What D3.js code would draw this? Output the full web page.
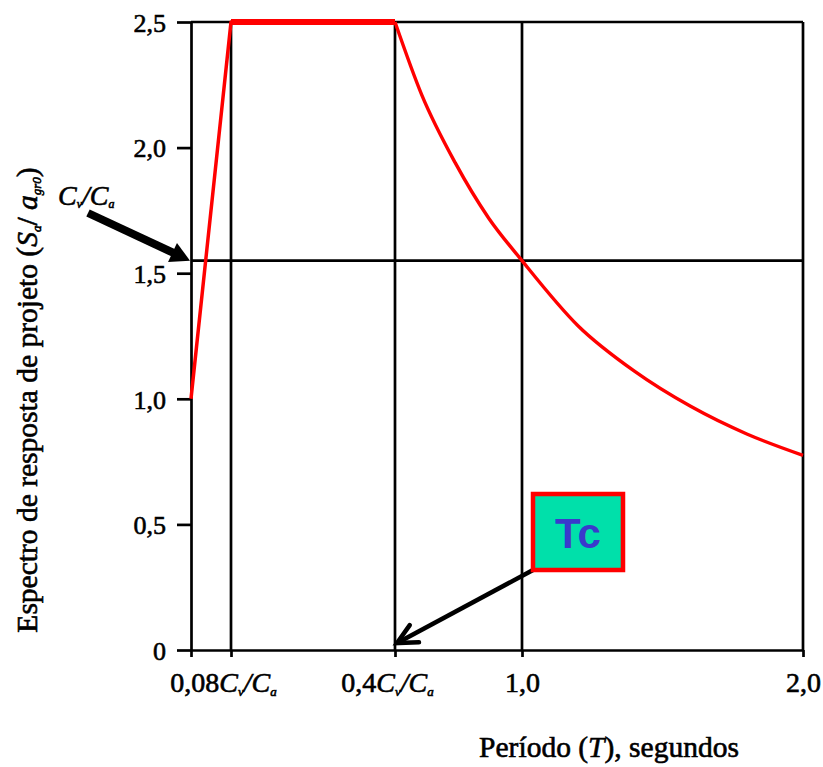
<!doctype html>
<html>
<head>
<meta charset="utf-8">
<title>Espectro de resposta de projeto</title>
<script src="https://cdnjs.cloudflare.com/ajax/libs/d3/7.8.5/d3.min.js"></script>
<style>
  body { margin: 0; background: #fff; }
  svg { display: block; font-family: "Liberation Serif", "Times New Roman", serif; }
  text { fill: #000; stroke: #000; stroke-width: 0.6px; }
  .axis path, .axis line { stroke: #000; stroke-width: 2.7px; }
</style>
</head>
<body>
<div id="chart"></div>
<script>
// ---- data ----
const cvOverCa = 1.55;                       // horizontal reference line Cv/Ca
const riseT  = [0, 0.124, 0.62];             // T = 0, 0.08Cv/Ca, 0.4Cv/Ca
const riseSa = [1.0, 2.5, 2.5];
const decayT  = [0.62, 0.7, 0.8, 0.9, 1.0, 1.2, 1.4, 1.6, 1.8, 2.0];
const decaySa = [2.5, 2.21, 1.94, 1.72, 1.55, 1.29, 1.11, 0.97, 0.86, 0.775];

const xTickValues = [0, 0.124, 0.62, 1.0, 2.0];
const xTickLabels = ["", "0,08", "0,4", "1,0", "2,0"];
const xTickSuffix = [false, true, true, false, false];   // append Cv/Ca
const gridT = [0.124, 0.62, 1.0, 2.0];
const yTickValues = [0, 0.5, 1.0, 1.5, 2.0, 2.5];
const yTickLabels = ["0", "0,5", "1,0", "1,5", "2,0", "2,5"];

// ---- svg ----
const W = 823, H = 767;
const svg = d3.select('#chart').append('svg')
  .attr('width', W)
  .attr('height', H);

// the period axis in the figure is not to scale: piecewise between the ticks
const x = d3.scaleLinear()
  .domain(xTickValues)
  .range([191, 231, 395, 522, 803]);

const y = d3.scaleLinear()
  .domain([0, 2.5])
  .range([650, 22]);

// grid / frame
svg.selectAll('line.vgrid')
  .data(gridT)
  .join('line')
  .attr('class', 'vgrid')
  .attr('x1', d => x(d)).attr('x2', d => x(d))
  .attr('y1', y(0)).attr('y2', y(2.5))
  .attr('stroke', '#000').attr('stroke-width', 2.7);

svg.append('line')
  .attr('x1', x(0)).attr('x2', x(2))
  .attr('y1', y(2.5)).attr('y2', y(2.5))
  .attr('stroke', '#000').attr('stroke-width', 2.7);

svg.append('line')
  .attr('x1', x(0)).attr('x2', x(2))
  .attr('y1', y(cvOverCa)).attr('y2', y(cvOverCa))
  .attr('stroke', '#000').attr('stroke-width', 2.7);

// axes
const yAxis = d3.axisLeft(y)
  .tickValues(yTickValues)
  .tickFormat((d, i) => yTickLabels[i])
  .tickSize(14)
  .tickSizeOuter(0)
  .tickPadding(11);

const gy = svg.append('g')
  .attr('class', 'axis')
  .attr('transform', `translate(${x(0)},0)`)
  .call(yAxis);
gy.attr('font-family', null);
gy.selectAll('text')
  .attr('font-size', 26)
  .attr('dy', '0.36em');

const xAxis = d3.axisBottom(x)
  .tickValues(xTickValues)
  .tickFormat((d, i) => xTickLabels[i])
  .tickSize(7)
  .tickSizeOuter(0)
  .tickPadding(15);

const gx = svg.append('g')
  .attr('class', 'axis')
  .attr('transform', `translate(0,${y(0)})`)
  .call(xAxis);
gx.attr('font-family', null);
gx.selectAll('text')
  .attr('font-size', 28)
  .each(function (d, i) {
    if (!xTickSuffix[i]) return;
    const t = d3.select(this);
    t.append('tspan').attr('font-style', 'italic').text('C');
    t.append('tspan').attr('font-size', 13).attr('font-style', 'italic').attr('dy', 4).text('v');
    t.append('tspan').attr('font-style', 'italic').attr('dy', -4).text('/C');
    t.append('tspan').attr('font-size', 13).attr('font-style', 'italic').attr('dy', 4).text('a');
  });
// labels with subscripts sit a little left of their ticks in the figure
gx.selectAll('.tick text').attr('dx', (d, i) => xTickSuffix[i] ? -8 : 0);

// ---- spectrum ----
const line = d3.line()
  .x(d => x(d[0]))
  .y(d => y(d[1]));

const rise = riseT.map((t, i) => [t, riseSa[i]]);
const decay = decayT.map((t, i) => [t, decaySa[i]]);

svg.append('path')
  .datum(rise.slice(1))
  .attr('d', line)
  .attr('fill', 'none')
  .attr('stroke', '#ff0000')
  .attr('stroke-width', 6);

svg.append('path')
  .datum(rise)
  .attr('d', line)
  .attr('fill', 'none')
  .attr('stroke', '#ff0000')
  .attr('stroke-width', 3.5)
  .attr('stroke-linejoin', 'round');

svg.append('path')
  .datum(decay)
  .attr('d', line.curve(d3.curveMonotoneX))
  .attr('fill', 'none')
  .attr('stroke', '#ff0000')
  .attr('stroke-width', 3.4);

// ---- annotations ----
function arrowHead(tip, from, len, halfAngle) {
  const a = Math.atan2(from[1] - tip[1], from[0] - tip[0]);
  return [
    [tip[0] + len * Math.cos(a - halfAngle), tip[1] + len * Math.sin(a - halfAngle)],
    tip,
    [tip[0] + len * Math.cos(a + halfAngle), tip[1] + len * Math.sin(a + halfAngle)]
  ];
}

// Cv/Ca label and thick arrow
const cvTip = [x(0) - 1, y(cvOverCa)];
const cvTail = [88, 213];
const ang = Math.atan2(cvTip[1] - cvTail[1], cvTip[0] - cvTail[0]);
svg.append('line')
  .attr('x1', cvTail[0]).attr('y1', cvTail[1])
  .attr('x2', cvTip[0] - 14 * Math.cos(ang)).attr('y2', cvTip[1] - 14 * Math.sin(ang))
  .attr('stroke', '#000').attr('stroke-width', 8);
svg.append('path')
  .attr('d', 'M' + arrowHead(cvTip, cvTail, 22, 0.5).join('L') + 'Z')
  .attr('fill', '#000');

const cvText = svg.append('text')
  .attr('x', 58).attr('y', 205)
  .attr('font-size', 28)
  .attr('font-style', 'italic');
cvText.append('tspan').text('C');
cvText.append('tspan').attr('font-size', 12).attr('dy', 3).text('v');
cvText.append('tspan').attr('dy', -3).text('/C');
cvText.append('tspan').attr('font-size', 12).attr('dy', 3).text('a');

// Tc box and arrow
const tcTip = [x(0.62) + 2, y(0) - 7];
const tcTail = [533, 570];
svg.append('line')
  .attr('x1', tcTail[0]).attr('y1', tcTail[1])
  .attr('x2', tcTip[0] + 2).attr('y2', tcTip[1] - 1)
  .attr('stroke', '#000').attr('stroke-width', 4.5);
svg.append('path')
  .attr('d', 'M' + arrowHead(tcTip, tcTail, 22, 0.46).join('L'))
  .attr('fill', 'none')
  .attr('stroke', '#000').attr('stroke-width', 4.5)
  .attr('stroke-linecap', 'round')
  .attr('stroke-linejoin', 'miter');

svg.append('rect')
  .attr('x', 533).attr('y', 494)
  .attr('width', 90).attr('height', 76)
  .attr('fill', '#00e0aa')
  .attr('stroke', '#ff0000').attr('stroke-width', 4.5);
svg.append('text')
  .attr('x', 578).attr('y', 548)
  .attr('text-anchor', 'middle')
  .attr('font-family', '"Liberation Sans", Arial, sans-serif')
  .attr('font-weight', 'bold')
  .attr('font-size', 42)
  .style('fill', '#3a3acc').style('stroke', 'none')
  .text('Tc');

// ---- axis titles ----
const xTitle = svg.append('text')
  .attr('x', 609).attr('y', 757)
  .attr('text-anchor', 'middle')
  .attr('font-size', 29.5);
xTitle.append('tspan').text('Período (');
xTitle.append('tspan').attr('font-style', 'italic').text('T');
xTitle.append('tspan').text('), segundos');

const yTitle = svg.append('text')
  .attr('transform', 'translate(37,400) rotate(-90)')
  .attr('text-anchor', 'middle')
  .attr('font-size', 29.5);
yTitle.append('tspan').text('Espectro de resposta de projeto (');
yTitle.append('tspan').attr('font-style', 'italic').text('S');
yTitle.append('tspan').attr('font-size', 13).attr('font-style', 'italic').attr('dy', 4).text('a');
yTitle.append('tspan').attr('dy', -4).text('/ ');
yTitle.append('tspan').attr('font-style', 'italic').text('a');
yTitle.append('tspan').attr('font-size', 13).attr('font-style', 'italic').attr('dy', 4).text('gr0');
yTitle.append('tspan').attr('dy', -4).text(')');
</script>
</body>
</html>
